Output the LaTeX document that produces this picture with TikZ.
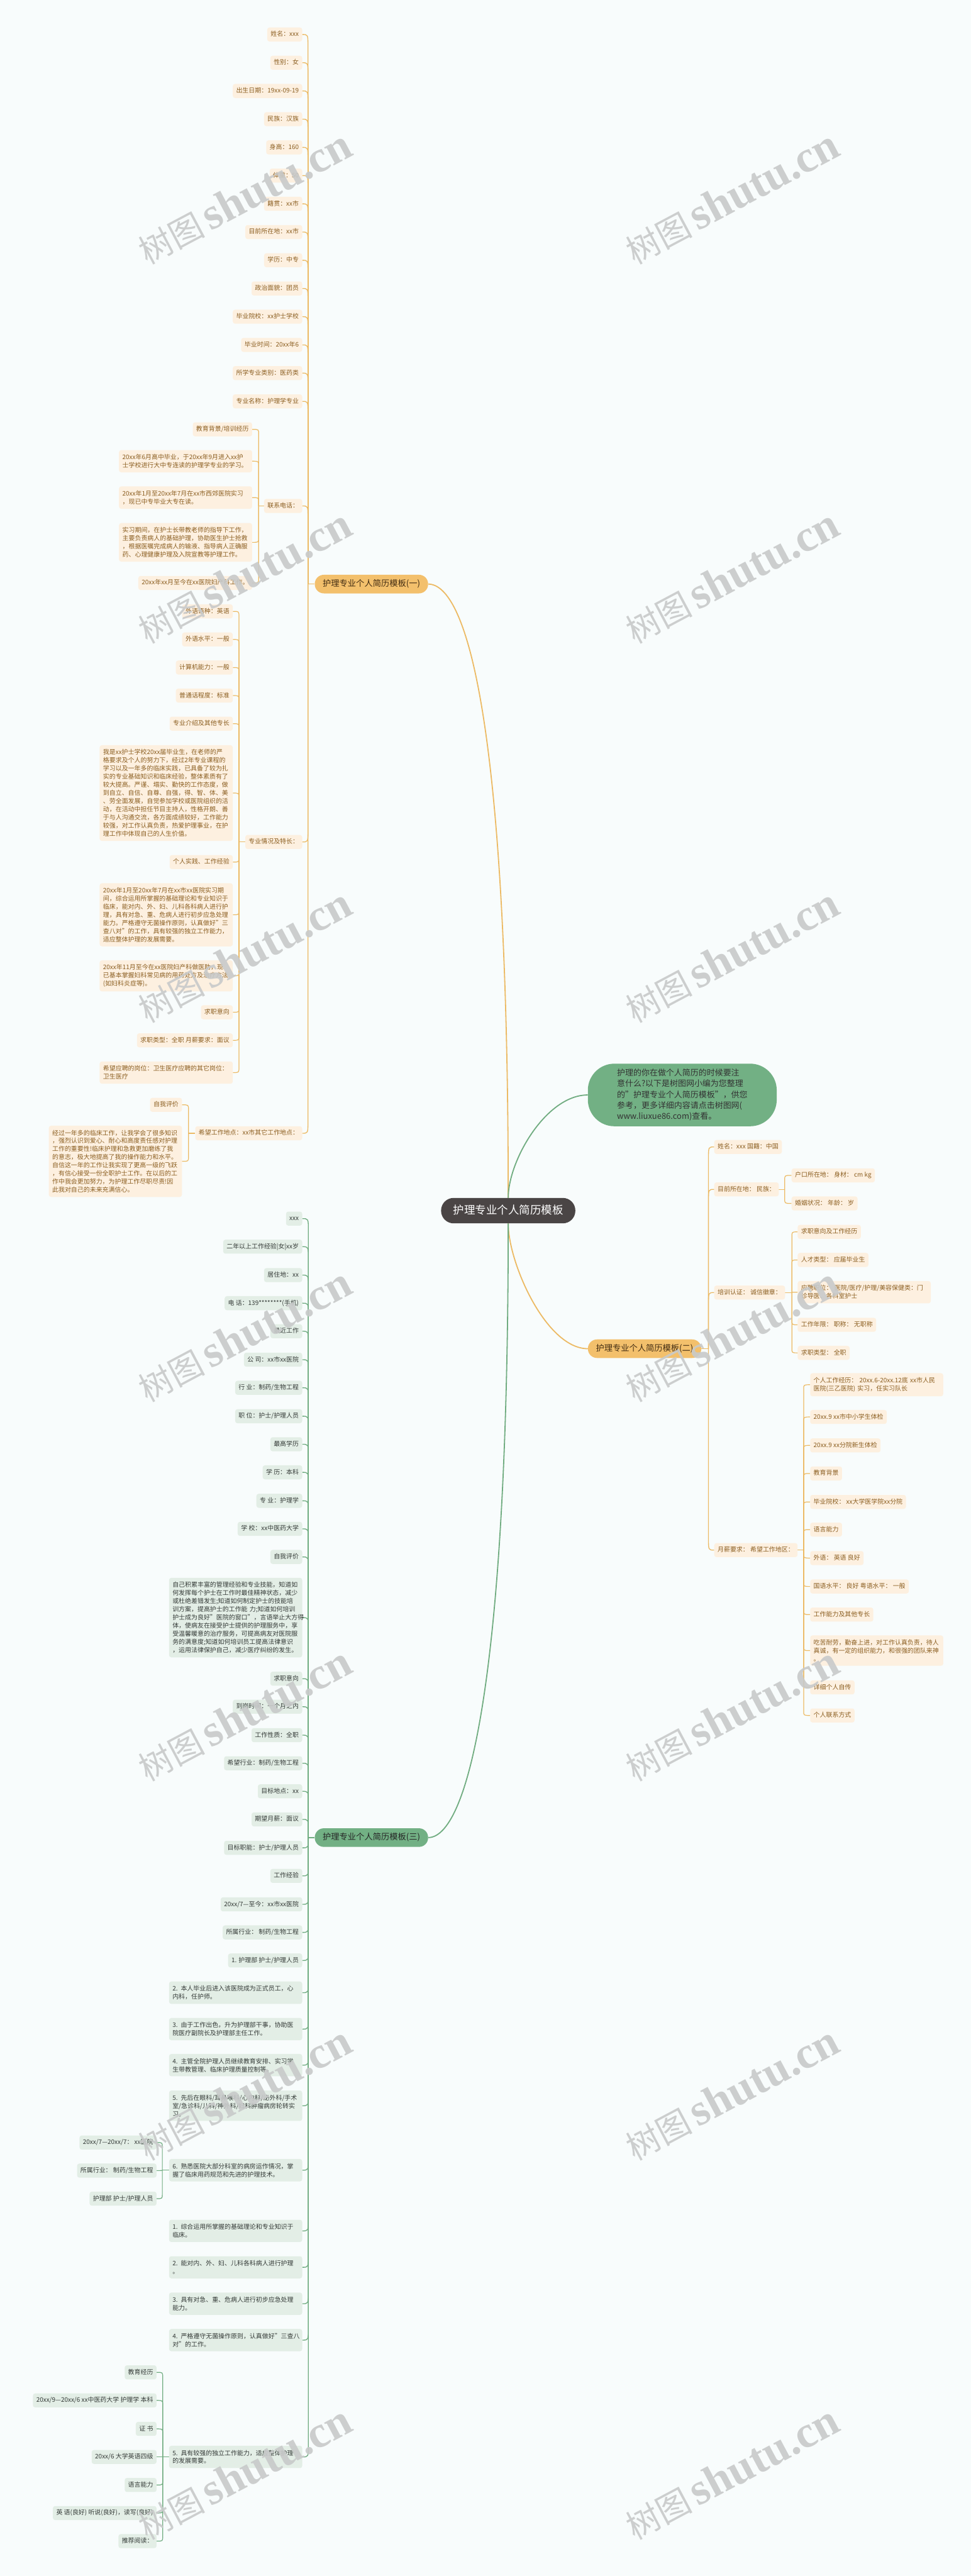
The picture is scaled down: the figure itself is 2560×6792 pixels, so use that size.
\documentclass[tikz,border=0pt]{standalone}
\usepackage{fontspec}
\setmainfont{Noto Sans CJK SC}
\newfontfamily\wmserif{Liberation Serif}
\usetikzlibrary{calc}
\definecolor{bgc}{RGB}{248,252,252}
\definecolor{rootc}{RGB}{74,69,69}
\definecolor{obr}{RGB}{243,192,108}
\definecolor{obrtext}{RGB}{66,44,18}
\definecolor{olf}{RGB}{253,240,224}
\definecolor{oltext}{RGB}{139,94,32}
\definecolor{oline}{RGB}{236,186,100}
\definecolor{gbr}{RGB}{114,176,132}
\definecolor{glf}{RGB}{227,238,230}
\definecolor{gltext}{RGB}{52,58,55}
\definecolor{gline}{RGB}{112,172,128}
\definecolor{wmc}{RGB}{200,202,202}
\pgfdeclarelayer{back}\pgfdeclarelayer{conn}\pgfsetlayers{back,conn,main}
\newcommand\hk[5]{\draw[#1] let \p1=(#2), \p2=(#3.#4) in (\p1) -- (\x1,{\y2-sign(\y2-\y1)*min(#5,abs(\y2-\y1))}) .. controls (\x1,\y2) .. (\p2);}
\tikzset{
  base/.style={align=left, font=\fontsize{16.5}{21.5}\selectfont, inner xsep=9pt, rounded corners=6pt},
  sl/.style={text height=13.5pt, text depth=3.5pt, inner ysep=10pt},
  ml/.style={text width=333pt, inner ysep=11pt},
  ol/.style={base, fill=olf, text=oltext},
  gl/.style={base, fill=glf, text=gltext},
  brn/.style={font=\fontsize{22}{26}\selectfont, inner xsep=21pt, inner ysep=14pt, text height=17pt, text depth=4pt, rounded corners=24pt},
  ocr/.style={draw=oline, line width=3pt},
  gcr/.style={draw=gline, line width=3pt},
  ocb/.style={draw=oline, line width=2.2pt},
  gcb/.style={draw=gline, line width=2.2pt},
  oce/.style={draw=oline, line width=2pt},
  gce/.style={draw=gline, line width=2pt},
  wm/.style={rotate=28, text=wmc, inner sep=0pt, opacity=0.9}
}
\begin{document}
\begin{tikzpicture}[x=1pt,y=-1pt]
\useasboundingbox (0,0) rectangle (2560,6792);
\begin{pgfonlayer}{back}
\fill[bgc] (0,0) rectangle (2560,6792);
\end{pgfonlayer}

% root, note, branches
\node[fill=rootc, text=white, rounded corners=33pt, font=\fontsize{29}{34}\selectfont, inner xsep=32pt, inner ysep=19.5pt, text height=23pt, text depth=5pt] (root) at (1340,3192) {护理专业个人简历模板};
\node[fill=gbr, text=black!80, rounded corners=70pt, minimum width=498pt, minimum height=165pt, align=left, font=\fontsize{21.5}{28.7}\selectfont, inner sep=0pt] (note) at (1799,2887) {护理的你在做个人简历的时候要注\\意什么?以下是树图网小编为您整理\\的"护理专业个人简历模板"，供您\\参考，更多详细内容请点击树图网(\\www.liuxue86.com)查看。};
\node[brn, fill=obr, text=obrtext, anchor=east] (B1) at (1129,1540) {护理专业个人简历模板(一)};
\node[brn, fill=obr, text=obrtext, anchor=west] (B2) at (1550,3556) {护理专业个人简历模板(二)};
\node[brn, fill=gbr, text=black!85, anchor=east] (B3) at (1129,4845) {护理专业个人简历模板(三)};

% branch one leaves
\node[ol,sl,anchor=east] (a1) at (797,91) {姓名：xxx};
\node[ol,sl,anchor=east] (a2) at (797,165.4) {性别：女};
\node[ol,sl,anchor=east] (a3) at (797,239.8) {出生日期：19xx-09-19};
\node[ol,sl,anchor=east] (a4) at (797,314.2) {民族：汉族};
\node[ol,sl,anchor=east] (a5) at (797,388.6) {身高：160};
\node[ol,sl,anchor=east] (a6) at (797,463) {体重：50};
\node[ol,sl,anchor=east] (a7) at (797,537.4) {籍贯：xx市};
\node[ol,sl,anchor=east] (a8) at (797,611.8) {目前所在地：xx市};
\node[ol,sl,anchor=east] (a9) at (797,686.2) {学历：中专};
\node[ol,sl,anchor=east] (a10) at (797,760.6) {政治面貌：团员};
\node[ol,sl,anchor=east] (a11) at (797,835) {毕业院校：xx护士学校};
\node[ol,sl,anchor=east] (a12) at (797,909.4) {毕业时间：20xx年6};
\node[ol,sl,anchor=east] (a13) at (797,983.8) {所学专业类别：医药类};
\node[ol,sl,anchor=east] (a14) at (797,1058.2) {专业名称：护理学专业};

\node[ol,sl,anchor=east] (p1) at (797,1334) {联系电话：};
\node[ol,sl,anchor=east] (p1a) at (665,1132) {教育背景/培训经历};
\node[ol,ml,anchor=east] (p1b) at (665,1216) {20xx年6月高中毕业，于20xx年9月进入xx护\\士学校进行大中专连读的护理学专业的学习。};
\node[ol,ml,anchor=east] (p1c) at (665,1312) {20xx年1月至20xx年7月在xx市西郊医院实习\\，现已中专毕业大专在读。};
\node[ol,ml,anchor=east] (p1d) at (665,1430) {实习期间，在护士长带教老师的指导下工作，\\主要负责病人的基础护理，协助医生护士抢救\\，根据医嘱完成病人的输液、指导病人正确服\\药、心理健康护理及入院宣教等护理工作。};
\node[ol,sl,anchor=east] (p1e) at (665,1537) {20xx年xx月至今在xx医院妇产科工作。};

\node[ol,sl,anchor=east] (p2) at (797,2220) {专业情况及特长：};
\node[ol,sl,anchor=east] (p2a) at (614,1612) {外语语种：英语};
\node[ol,sl,anchor=east] (p2b) at (614,1686) {外语水平：一般};
\node[ol,sl,anchor=east] (p2c) at (614,1760) {计算机能力：一般};
\node[ol,sl,anchor=east] (p2d) at (614,1834) {普通话程度：标准};
\node[ol,sl,anchor=east] (p2e) at (614,1908) {专业介绍及其他专长};
\node[ol,ml,anchor=east] (p2f) at (614,2091) {我是xx护士学校20xx届毕业生，在老师的严\\格要求及个人的努力下，经过2年专业课程的\\学习以及一年多的临床实践，已具备了较为扎\\实的专业基础知识和临床经验，整体素质有了\\较大提高。严谨、塌实、勤快的工作态度，做\\到自立、自信、自尊、自强，得、智、体、美\\、劳全面发展，自觉参加学校或医院组织的活\\动，在活动中担任节目主持人，性格开朗、善\\于与人沟通交流，各方面成绩较好，工作能力\\较强，对工作认真负责，热爱护理事业，在护\\理工作中体现自己的人生价值。};
\node[ol,sl,anchor=east] (p2g) at (614,2273) {个人实践、工作经验};
\node[ol,ml,anchor=east] (p2h) at (614,2412) {20xx年1月至20xx年7月在xx市xx医院实习期\\间，综合运用所掌握的基础理论和专业知识于\\临床，能对内、外、妇、儿科各科病人进行护\\理，具有对急、重、危病人进行初步应急处理\\能力。严格遵守无菌操作原则，认真做好"三\\查八对"的工作，具有较强的独立工作能力，\\适应整体护理的发展需要。};
\node[ol,ml,anchor=east] (p2i) at (614,2573) {20xx年11月至今在xx医院妇产科做医助，现\\已基本掌握妇科常见病的用药处方及治疗方法\\(如妇科炎症等)。};
\node[ol,sl,anchor=east] (p2j) at (614,2669) {求职意向};
\node[ol,sl,anchor=east] (p2k) at (614,2743) {求职类型：全职 月薪要求：面议};
\node[ol,ml,anchor=east] (p2l) at (614,2828) {希望应聘的岗位：卫生医疗应聘的其它岗位：\\卫生医疗};

\node[ol,sl,anchor=east] (p3) at (797,2988) {希望工作地点：xx市其它工作地点：};
\node[ol,sl,anchor=east] (p3a) at (480,2913) {自我评价};
\node[ol,ml,anchor=east] (p3b) at (480,3062) {经过一年多的临床工作，让我学会了很多知识\\，强烈认识到爱心、耐心和高度责任感对护理\\工作的重要性!临床护理和急救更加磨练了我\\的意志，极大地提高了我的操作能力和水平。\\自信这一年的工作让我实现了更高一级的飞跃\\，有信心接受一份全职护士工作。在以后的工\\作中我会更加努力，为护理工作尽职尽责!因\\此我对自己的未来充满信心。};

% branch two
\node[ol,sl,anchor=west] (k1) at (1883,3024) {姓名：xxx 国籍：中国};
\node[ol,sl,anchor=west] (k2) at (1883,3136) {目前所在地： 民族：};
\node[ol,sl,anchor=west] (k2a) at (2087,3099) {户口所在地： 身材： cm kg};
\node[ol,sl,anchor=west] (k2b) at (2087,3173) {婚姻状况： 年龄： 岁};
\node[ol,sl,anchor=west] (k3) at (1883,3408) {培训认证： 诚信徽章：};
\node[ol,sl,anchor=west] (k3a) at (2103,3248) {求职意向及工作经历};
\node[ol,sl,anchor=west] (k3b) at (2103,3322) {人才类型： 应届毕业生};
\node[ol,ml,anchor=west] (k3c) at (2103,3407) {应聘职位： 医院/医疗/护理/美容保健类：门\\诊导医、各科室护士};
\node[ol,sl,anchor=west] (k3d) at (2103,3493) {工作年限： 职称： 无职称};
\node[ol,sl,anchor=west] (k3e) at (2103,3567) {求职类型： 全职};
\node[ol,sl,anchor=west] (k4) at (1883,4087) {月薪要求： 希望工作地区：};
\node[ol,ml,anchor=west] (k4a) at (2136,3651) {个人工作经历： 20xx.6-20xx.12底 xx市人民\\医院(三乙医院) 实习，任实习队长};
\node[ol,sl,anchor=west] (k4b) at (2136,3736) {20xx.9 xx市中小学生体检};
\node[ol,sl,anchor=west] (k4c) at (2136,3811) {20xx.9 xx分院新生体检};
\node[ol,sl,anchor=west] (k4d) at (2136,3885) {教育背景};
\node[ol,sl,anchor=west] (k4e) at (2136,3960) {毕业院校： xx大学医学院xx分院};
\node[ol,sl,anchor=west] (k4f) at (2136,4033) {语言能力};
\node[ol,sl,anchor=west] (k4g) at (2136,4108) {外语： 英语 良好};
\node[ol,sl,anchor=west] (k4h) at (2136,4183) {国语水平： 良好 粤语水平： 一般};
\node[ol,sl,anchor=west] (k4i) at (2136,4257) {工作能力及其他专长};
\node[ol,ml,anchor=west] (k4j) at (2136,4352) {吃苦耐劳，勤奋上进，对工作认真负责，待人\\真诚，有一定的组织能力，和很强的团队来神\\。};
\node[ol,sl,anchor=west] (k4k) at (2136,4449) {详细个人自传};
\node[ol,sl,anchor=west] (k4l) at (2136,4523) {个人联系方式};

% branch three
\node[gl,sl,anchor=east] (g1) at (797,3213) {xxx};
\node[gl,sl,anchor=east] (g2) at (797,3287) {二年以上工作经验|女|xx岁};
\node[gl,sl,anchor=east] (g3) at (797,3362) {居住地：xx};
\node[gl,sl,anchor=east] (g4) at (797,3436) {电 话：139********(手机)};
\node[gl,sl,anchor=east] (g5) at (797,3510) {最近工作};
\node[gl,sl,anchor=east] (g6) at (797,3585) {公 司：xx市xx医院};
\node[gl,sl,anchor=east] (g7) at (797,3659) {行 业：制药/生物工程};
\node[gl,sl,anchor=east] (g8) at (797,3734) {职 位：护士/护理人员};
\node[gl,sl,anchor=east] (g9) at (797,3808) {最高学历};
\node[gl,sl,anchor=east] (g10) at (797,3882) {学 历：本科};
\node[gl,sl,anchor=east] (g11) at (797,3957) {专 业：护理学};
\node[gl,sl,anchor=east] (g12) at (797,4031) {学 校：xx中医药大学};
\node[gl,sl,anchor=east] (g13) at (797,4105) {自我评价};
\node[gl,ml,anchor=east] (g14) at (797,4265) {自己积累丰富的管理经验和专业技能，知道如\\何发挥每个护士在工作时最佳精神状态，减少\\或杜绝差错发生;知道如何制定护士的技能培\\训方案，提高护士的工作能 力;知道如何培训\\护士成为良好"医院的窗口"，言语举止大方得\\体，使病友在接受护士提供的护理服务中，享\\受温馨暖意的治疗服务，可提高病友对医院服\\务的满意度;知道如何培训员工提高法律意识\\，运用法律保护自己，减少医疗纠纷的发生。};
\node[gl,sl,anchor=east] (g15) at (797,4426) {求职意向};
\node[gl,sl,anchor=east] (g16) at (797,4500) {到岗时间：一个月之内};
\node[gl,sl,anchor=east] (g17) at (797,4575) {工作性质：全职};
\node[gl,sl,anchor=east] (g18) at (797,4649) {希望行业：制药/生物工程};
\node[gl,sl,anchor=east] (g19) at (797,4723) {目标地点：xx};
\node[gl,sl,anchor=east] (g20) at (797,4797) {期望月薪：面议};
\node[gl,sl,anchor=east] (g21) at (797,4872) {目标职能：护士/护理人员};
\node[gl,sl,anchor=east] (g22) at (797,4946) {工作经验};
\node[gl,sl,anchor=east] (g23) at (797,5021) {20xx/7—至今：xx市xx医院};
\node[gl,sl,anchor=east] (g24) at (797,5095) {所属行业： 制药/生物工程};
\node[gl,sl,anchor=east] (g25) at (797,5169) {1. 护理部 护士/护理人员};
\node[gl,ml,anchor=east] (g26) at (797,5254) {2. 本人毕业后进入该医院成为正式员工，心\\内科，任护师。};
\node[gl,ml,anchor=east] (g27) at (797,5350) {3. 由于工作出色，升为护理部干事，协助医\\院医疗副院长及护理部主任工作。};
\node[gl,ml,anchor=east] (g28) at (797,5445) {4. 主管全院护理人员继续教育安排、实习学\\生带教管理、临床护理质量控制等。};
\node[gl,ml,anchor=east] (g29) at (797,5552) {5. 先后在眼科/耳鼻喉科/心内科/泌外科/手术\\室/急诊科/儿科/神外科/妇科肿瘤病房轮转实\\习。};
\node[gl,ml,anchor=east] (g30) at (797,5722) {6. 熟悉医院大部分科室的病房运作情况，掌\\握了临床用药规范和先进的护理技术。};
\node[gl,ml,anchor=east] (g31) at (797,5882) {1. 综合运用所掌握的基础理论和专业知识于\\临床。};
\node[gl,ml,anchor=east] (g32) at (797,5978) {2. 能对内、外、妇、儿科各科病人进行护理\\。};
\node[gl,ml,anchor=east] (g33) at (797,6074) {3. 具有对急、重、危病人进行初步应急处理\\能力。};
\node[gl,ml,anchor=east] (g34) at (797,6170) {4. 严格遵守无菌操作原则，认真做好"三查八\\对"的工作。};
\node[gl,ml,anchor=east] (g35) at (797,6478) {5. 具有较强的独立工作能力，适应整体护理\\的发展需要。};
\node[gl,sl,anchor=east] (h1) at (413,5649) {20xx/7—20xx/7： xx医院};
\node[gl,sl,anchor=east] (h2) at (413,5723) {所属行业： 制药/生物工程};
\node[gl,sl,anchor=east] (h3) at (413,5797) {护理部 护士/护理人员};
\node[gl,sl,anchor=east] (m1) at (413,6255) {教育经历};
\node[gl,sl,anchor=east] (m2) at (413,6329) {20xx/9—20xx/6 xx中医药大学 护理学 本科};
\node[gl,sl,anchor=east] (m3) at (413,6404) {证 书};
\node[gl,sl,anchor=east] (m4) at (413,6478) {20xx/6 大学英语四级};
\node[gl,sl,anchor=east] (m5) at (413,6552) {语言能力};
\node[gl,sl,anchor=east] (m6) at (413,6626) {英 语(良好) 听说(良好)，读写(良好)};
\node[gl,sl,anchor=east] (m7) at (413,6700) {推荐阅读：};

% connectors
\begin{pgfonlayer}{conn}
\draw[ocr] (root.north) .. controls (1340,1900) and (1230,1540) .. (B1.east);
\draw[gcr] (root.north) .. controls (1340,3060) and (1440,2887) .. (note.west);
\draw[ocr] (root.south) .. controls (1340,3330) and (1440,3556) .. (B2.west);
\draw[gcr] (root.south) .. controls (1340,4450) and (1230,4845) .. (B3.east);

\coordinate (t1) at (812,1540);
\draw[ocb] (B1.west) -- (t1);
\foreach \i in {1,...,14} {\hk{ocb}{t1}{a\i}{east}{30pt}}
\foreach \q in {p1,p2,p3} {\hk{ocb}{t1}{\q}{east}{30pt}}
\coordinate (t2) at (682,1334);
\draw[oce] (p1.west) -- (t2);
\foreach \q in {p1a,p1b,p1c,p1d,p1e} {\hk{oce}{t2}{\q}{east}{12pt}}
\coordinate (t3) at (630,2220);
\draw[oce] (p2.west) -- (t3);
\foreach \q in {p2a,p2b,p2c,p2d,p2e,p2f,p2g,p2h,p2i,p2j,p2k,p2l} {\hk{oce}{t3}{\q}{east}{12pt}}
\coordinate (t4) at (497,2988);
\draw[oce] (p3.west) -- (t4);
\foreach \q in {p3a,p3b} {\hk{oce}{t4}{\q}{east}{12pt}}

\coordinate (t5) at (1868,3556);
\draw[ocb] (B2.east) -- (t5);
\foreach \q in {k1,k2,k3,k4} {\hk{ocb}{t5}{\q}{west}{30pt}}
\coordinate (t6) at (2069,3136);
\draw[oce] (k2.east) -- (t6);
\foreach \q in {k2a,k2b} {\hk{oce}{t6}{\q}{west}{12pt}}
\coordinate (t7) at (2088,3408);
\draw[oce] (k3.east) -- (t7);
\foreach \q in {k3a,k3b,k3c,k3d,k3e} {\hk{oce}{t7}{\q}{west}{12pt}}
\coordinate (t8) at (2119,4087);
\draw[oce] (k4.east) -- (t8);
\foreach \q in {k4a,k4b,k4c,k4d,k4e,k4f,k4g,k4h,k4i,k4j,k4k,k4l} {\hk{oce}{t8}{\q}{west}{12pt}}

\coordinate (t9) at (813,4845);
\draw[gcb] (B3.west) -- (t9);
\foreach \i in {1,...,35} {\hk{gcb}{t9}{g\i}{east}{30pt}}
\coordinate (t10) at (428,5722);
\draw[gce] (g30.west) -- (t10);
\foreach \q in {h1,h2,h3} {\hk{gce}{t10}{\q}{east}{12pt}}
\coordinate (t11) at (429,6478);
\draw[gce] (g35.west) -- (t11);
\foreach \q in {m1,m2,m3,m4,m5,m6,m7} {\hk{gce}{t11}{\q}{east}{12pt}}
\end{pgfonlayer}

% watermarks
\foreach \wy in {520,1520,2520,3520,4520,5520,6520} {
  \node[wm] (wl\wy) at (645,\wy) {\fontsize{88}{90}\selectfont 树图\,{\wmserif\bfseries\fontsize{118}{120}\selectfont shutu.cn}};
  \node[wm] (wr\wy) at (1930,\wy) {\fontsize{88}{90}\selectfont 树图\,{\wmserif\bfseries\fontsize{118}{120}\selectfont shutu.cn}};
}
\end{tikzpicture}
\end{document}
